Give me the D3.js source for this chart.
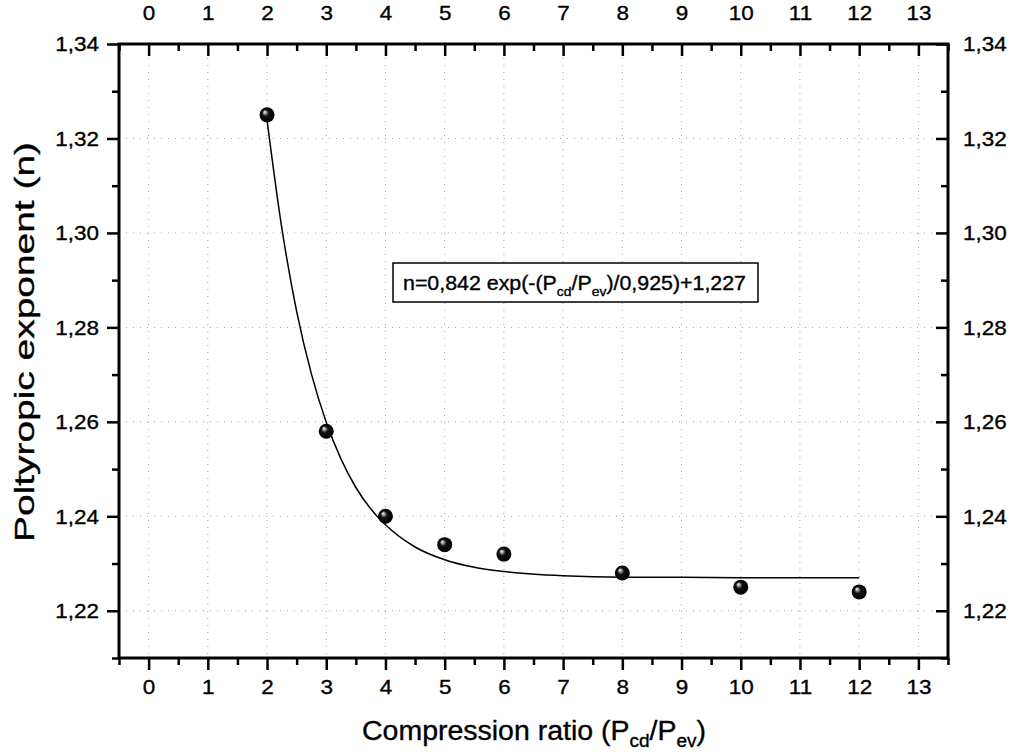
<!DOCTYPE html>
<html>
<head>
<meta charset="utf-8">
<script src="https://cdn.jsdelivr.net/npm/d3@7/dist/d3.min.js"></script>
<style>
  html, body { margin: 0; padding: 0; background: #fff; }
  svg { display: block; font-family: "Liberation Sans", Arial, sans-serif; }
  text { stroke: #000; stroke-width: 0.35px; }
</style>
</head>
<body>
<svg id="chart" width="1011" height="755"></svg>
<script>
// ---- data ----
const ratioX = [2, 3, 4, 5, 6, 8, 10, 12];
const exponentN = [1.325, 1.258, 1.240, 1.234, 1.232, 1.228, 1.225, 1.224];

// fitted curve, sampled from the drawn line
const fitX = [2, 2.25, 2.5, 2.75, 3, 3.25, 3.5, 3.75, 4, 4.5, 5, 5.5, 6, 7, 8, 9, 10, 11, 12];
const fitN = [1.3239, 1.3010, 1.2834, 1.2701, 1.2599, 1.2521, 1.2461, 1.2416, 1.2382,
              1.2335, 1.2308, 1.2292, 1.2283, 1.2274, 1.2271, 1.2271, 1.2270, 1.2270, 1.2270];

const xTicks = [0, 1, 2, 3, 4, 5, 6, 7, 8, 9, 10, 11, 12, 13];
const xTickLabels = ["0", "1", "2", "3", "4", "5", "6", "7", "8", "9", "10", "11", "12", "13"];
const xMinorTicks = [-0.5, 0.5, 1.5, 2.5, 3.5, 4.5, 5.5, 6.5, 7.5, 8.5, 9.5, 10.5, 11.5, 12.5, 13.5];
const yTicks = [1.22, 1.24, 1.26, 1.28, 1.30, 1.32, 1.34];
const yTickLabels = ["1,22", "1,24", "1,26", "1,28", "1,30", "1,32", "1,34"];
const yMinorTicks = [1.21, 1.23, 1.25, 1.27, 1.29, 1.31, 1.33];

const xTitle = "Compression ratio (P";
const yTitle = "Poltyropic exponent (n)";

// ---- layout ----
const svg = d3.select("#chart");
const L = 119, R = 948, T = 44, B = 658;
const x = d3.scaleLinear().domain([-0.5, 13.5]).range([L, R]);
const y = d3.scaleLinear().domain([1.21, 1.34]).range([B, T]);

// widen text glyphs (reference font is slightly wider than Liberation Sans)
function widen(sel, k) {
  sel.each(function () {
    const len = this.getComputedTextLength();
    if (len > 0) {
      d3.select(this).attr("textLength", len * k).attr("lengthAdjust", "spacingAndGlyphs");
    }
  });
}

// gradient for sphere markers
const defs = svg.append("defs");
const grad = defs.append("radialGradient").attr("id", "ball")
  .attr("cx", "50%").attr("cy", "50%").attr("r", "55%")
  .attr("fx", "33%").attr("fy", "30%");
grad.append("stop").attr("offset", "0%").attr("stop-color", "#ffffff");
grad.append("stop").attr("offset", "15%").attr("stop-color", "#aaaaaa");
grad.append("stop").attr("offset", "40%").attr("stop-color", "#111111");
grad.append("stop").attr("offset", "100%").attr("stop-color", "#000000");

// grid (dotted)
const grid = svg.append("g");
grid.selectAll(".gx").data(xTicks).join("line")
  .attr("x1", d => x(d)).attr("x2", d => x(d)).attr("y1", T).attr("y2", B)
  .attr("stroke", "#a0a0a0").attr("stroke-width", 1).attr("stroke-dasharray", "1 6");
grid.selectAll(".gy").data(yTicks.slice(0, -1)).join("line")
  .attr("x1", L).attr("x2", R).attr("y1", d => y(d)).attr("y2", d => y(d))
  .attr("stroke", "#a0a0a0").attr("stroke-width", 1).attr("stroke-dasharray", "1 6");

// axes helper
function styleAxis(g, labelSize) {
  g.select(".domain").remove();
  g.selectAll(".tick line").attr("stroke", "#000").attr("stroke-width", 2.5);
  g.selectAll(".tick text").attr("fill", "#000").style("font-size", labelSize + "px");
  widen(g.selectAll(".tick text"), 1.07);
}
const fmtX = (d) => xTickLabels[xTicks.indexOf(d)];
const fmtY = (d) => yTickLabels[yTicks.findIndex(v => Math.abs(v - d) < 1e-9)];

// bottom
svg.append("g").attr("transform", `translate(0,${B})`)
  .call(d3.axisBottom(x).tickValues(xTicks).tickFormat(fmtX).tickSize(12).tickPadding(9))
  .call(g => styleAxis(g, 21));
svg.append("g").attr("transform", `translate(0,${B})`)
  .call(d3.axisBottom(x).tickValues(xMinorTicks).tickFormat("").tickSize(7))
  .call(g => styleAxis(g, 21));
// top (ticks inward)
svg.append("g").attr("transform", `translate(0,${T})`)
  .call(d3.axisTop(x).tickValues(xTicks).tickFormat(fmtX).tickSizeInner(-12).tickSizeOuter(0).tickPadding(24))
  .call(g => styleAxis(g, 21));
svg.append("g").attr("transform", `translate(0,${T})`)
  .call(d3.axisTop(x).tickValues(xMinorTicks).tickFormat("").tickSizeInner(-7).tickSizeOuter(0))
  .call(g => styleAxis(g, 21));
// left
svg.append("g").attr("transform", `translate(${L},0)`)
  .call(d3.axisLeft(y).tickValues(yTicks).tickFormat(fmtY).tickSize(12).tickPadding(8))
  .call(g => styleAxis(g, 21));
svg.append("g").attr("transform", `translate(${L},0)`)
  .call(d3.axisLeft(y).tickValues(yMinorTicks).tickFormat("").tickSize(7))
  .call(g => styleAxis(g, 21));
// right (ticks inward)
svg.append("g").attr("transform", `translate(${R},0)`)
  .call(d3.axisRight(y).tickValues(yTicks).tickFormat(fmtY).tickSizeInner(-12).tickSizeOuter(0).tickPadding(15))
  .call(g => styleAxis(g, 21));
svg.append("g").attr("transform", `translate(${R},0)`)
  .call(d3.axisRight(y).tickValues(yMinorTicks).tickFormat("").tickSizeInner(-7).tickSizeOuter(0))
  .call(g => styleAxis(g, 21));

// frame
svg.append("rect").attr("x", L).attr("y", T).attr("width", R - L).attr("height", B - T)
  .attr("fill", "none").attr("stroke", "#000").attr("stroke-width", 3);

// fit curve
const line = d3.line().x((d, i) => x(fitX[i])).y((d, i) => y(fitN[i])).curve(d3.curveMonotoneX);
svg.append("path").datum(fitX).attr("d", line)
  .attr("fill", "none").attr("stroke", "#000").attr("stroke-width", 1.5);

// points
svg.append("g").selectAll("circle").data(ratioX).join("circle")
  .attr("cx", d => x(d)).attr("cy", (d, i) => y(exponentN[i])).attr("r", 7.5)
  .attr("fill", "url(#ball)");

// equation box
const bx = 393, by = 263, bw = 365, bh = 39;
svg.append("rect").attr("x", bx).attr("y", by).attr("width", bw).attr("height", bh)
  .attr("fill", "#fff").attr("stroke", "#000").attr("stroke-width", 1.5);
const eq = svg.append("text").attr("x", bx + 10).attr("y", by + 27)
  .style("font-size", "20px").attr("fill", "#000");
eq.append("tspan").text("n=0,842 exp(-(P");
eq.append("tspan").attr("dy", 6).style("font-size", "13px").text("cd");
eq.append("tspan").attr("dy", -6).text("/P");
eq.append("tspan").attr("dy", 6).style("font-size", "13px").text("ev");
eq.append("tspan").attr("dy", -6).text(")/0,925)+1,227");
eq.attr("textLength", 343).attr("lengthAdjust", "spacingAndGlyphs");

// x title
const xt = svg.append("text").attr("x", 362).attr("y", 740)
  .style("font-size", "27px").attr("fill", "#000");
xt.append("tspan").text(xTitle);
xt.append("tspan").attr("dy", 7).style("font-size", "18px").text("cd");
xt.append("tspan").attr("dy", -7).text("/P");
xt.append("tspan").attr("dy", 7).style("font-size", "18px").text("ev");
xt.append("tspan").attr("dy", -7).text(")");
xt.attr("textLength", 344).attr("lengthAdjust", "spacingAndGlyphs");

// y title
svg.append("text").attr("transform", `translate(34,342) rotate(-90)`)
  .attr("text-anchor", "middle").style("font-size", "28px").attr("fill", "#000")
  .attr("textLength", 400).attr("lengthAdjust", "spacingAndGlyphs")
  .text(yTitle);
</script>
</body>
</html>
